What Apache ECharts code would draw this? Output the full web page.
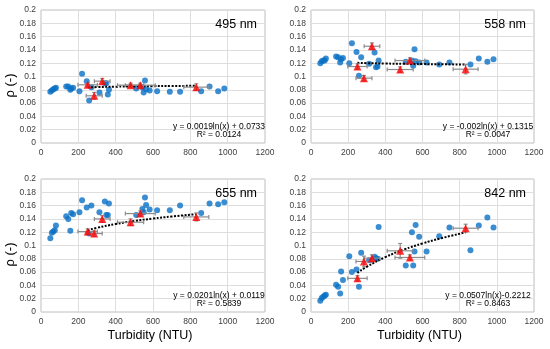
<!DOCTYPE html>
<html>
<head>
<meta charset="utf-8">
<script src="https://cdn.jsdelivr.net/npm/echarts@6/dist/echarts.min.js"></script>
<style>html,body{margin:0;padding:0;background:#fff}#c{width:550px;height:349px}</style>
</head>
<body>
<div id="c"></div>
<script>
// Shared turbidity (NTU) of field samples
var turbidity = [50, 58, 66, 74, 80, 135, 146, 157, 162, 172, 206, 220, 245, 258, 270, 313, 342, 350, 358, 364, 510, 543, 550, 557, 563, 582, 622, 690, 745, 858, 903, 949, 982];
var rho495 = [0.077, 0.079, 0.081, 0.082, 0.083, 0.085, 0.085, 0.080, 0.082, 0.083, 0.078, 0.104, 0.093, 0.064, 0.084, 0.076, 0.090, 0.090, 0.073, 0.080, 0.082, 0.084, 0.076, 0.094, 0.081, 0.079, 0.078, 0.077, 0.077, 0.078, 0.085, 0.078, 0.082];
var rho558 = [0.120, 0.123, 0.124, 0.124, 0.127, 0.130, 0.129, 0.121, 0.126, 0.128, 0.120, 0.150, 0.137, 0.101, 0.129, 0.119, 0.136, 0.114, 0.115, 0.124, 0.122, 0.124, 0.116, 0.141, 0.123, 0.121, 0.121, 0.118, 0.121, 0.118, 0.127, 0.122, 0.126];
var rho655 = [0.111, 0.119, 0.121, 0.123, 0.130, 0.144, 0.140, 0.122, 0.149, 0.147, 0.150, 0.168, 0.157, 0.118, 0.160, 0.150, 0.166, 0.146, 0.146, 0.163, 0.146, 0.155, 0.150, 0.172, 0.161, 0.154, 0.153, 0.153, 0.160, 0.149, 0.163, 0.162, 0.165];
var rho842 = [0.017, 0.021, 0.023, 0.025, 0.026, 0.041, 0.038, 0.028, 0.061, 0.048, 0.084, 0.060, 0.064, 0.038, 0.089, 0.078, 0.083, 0.081, 0.080, 0.128, 0.070, 0.120, 0.070, 0.091, 0.131, 0.113, 0.091, 0.114, 0.127, 0.093, 0.130, 0.142, 0.127];

// Lab measurements (mean with error bars)
var labTurb = [250, 285, 328, 480, 532, 832];
var labTurbErr = [52, 43, 42, 70, 80, 67];
var lab495 = [0.0875, 0.071, 0.093, 0.087, 0.087, 0.084];
var lab495Err = [0.003, 0.005, 0.004, 0.003, 0.003, 0.005];
var lab558 = [0.115, 0.0975, 0.1455, 0.1105, 0.124, 0.111];
var lab558Err = [0.004, 0.004, 0.005, 0.004, 0.004, 0.007];
var lab655 = [0.121, 0.118, 0.140, 0.135, 0.148, 0.143];
var lab655Err = [0.004, 0.004, 0.005, 0.005, 0.004, 0.006];
var lab842 = [0.0506, 0.076, 0.081, 0.092, 0.082, 0.126];
var lab842Err = [0.004, 0.008, 0.005, 0.011, 0.004, 0.006];

// Logarithmic trend lines
var trendX = [250, 300, 400, 500, 600, 700, 832];
var trend495 = [0.0838, 0.0841, 0.0847, 0.0851, 0.0855, 0.0857, 0.0861];
var trend558 = [0.1205, 0.1201, 0.1195, 0.1191, 0.1187, 0.1184, 0.1181];
var trend655 = [0.1229, 0.1266, 0.1323, 0.1368, 0.1405, 0.1436, 0.1471];
var trend842 = [0.0587, 0.0680, 0.0825, 0.0939, 0.1031, 0.1109, 0.1197];

var bandNames = ['495 nm', '558 nm', '655 nm', '842 nm'];
var equations = ['y = 0.0019ln(x) + 0.0733', 'y = -0.002ln(x) + 0.1315', 'y = 0.0201ln(x) + 0.0119', 'y = 0.0507ln(x)-0.2212'];
var r2Labels = ['R\u00B2 = 0.0124', 'R\u00B2 = 0.0047', 'R\u00B2 = 0.5839', 'R\u00B2 = 0.8463'];
var xTickLabels = ['0', '200', '400', '600', '800', '1000', '1200'];

var fieldSets = [rho495, rho558, rho655, rho842];
var labSets = [lab495, lab558, lab655, lab842];
var labErrSets = [lab495Err, lab558Err, lab655Err, lab842Err];
var trendSets = [trend495, trend558, trend655, trend842];

var FONT = 'Liberation Sans, Arial, sans-serif';
var grids = [
  {left: 41, top: 10, width: 224, height: 133},
  {left: 311, top: 10, width: 223, height: 133},
  {left: 41, top: 179, width: 224, height: 133},
  {left: 311, top: 179, width: 223, height: 133}
];

var option = {
  animation: false,
  backgroundColor: '#fff',
  grid: grids.map(function (g) {
    return Object.assign({show: true, borderColor: '#bfbfbf', borderWidth: 1, backgroundColor: '#fff'}, g);
  }),
  xAxis: grids.map(function (g, i) {
    return {
      gridIndex: i, type: 'value', min: 0, max: 1200, interval: 200,
      axisLine: {show: false}, axisTick: {show: false},
      splitLine: {lineStyle: {color: '#dedede', width: 1}},
      axisLabel: {fontSize: 8.5, color: '#404040', fontFamily: FONT, margin: 5,
        formatter: function (v) { return xTickLabels[Math.round(v / 200)]; }}
    };
  }),
  yAxis: grids.map(function (g, i) {
    return {
      gridIndex: i, type: 'value', min: 0, max: 0.2, interval: 0.02,
      axisLine: {show: false}, axisTick: {show: false},
      splitLine: {lineStyle: {color: '#dedede', width: 1}},
      axisLabel: {fontSize: 8.5, color: '#404040', fontFamily: FONT, margin: 5,
        formatter: function (v) { return String(Math.round(v * 100) / 100); }}
    };
  }),
  series: [],
  graphic: []
};

for (var i = 0; i < 4; i++) {
  var field = turbidity.map(function (x, k) { return [x, fieldSets[i][k]]; });
  var lab = labTurb.map(function (x, k) { return [x, labSets[i][k], labTurbErr[k], labErrSets[i][k]]; });
  var trend = trendX.map(function (x, k) { return [x, trendSets[i][k]]; });
  option.series.push({
    type: 'scatter', xAxisIndex: i, yAxisIndex: i, data: field,
    symbol: 'circle', symbolSize: 6, itemStyle: {color: '#0A70C6'}, z: 2
  });
  option.series.push({
    type: 'line', xAxisIndex: i, yAxisIndex: i, data: trend, smooth: true,
    showSymbol: false, lineStyle: {color: '#000', width: 2, type: [2, 1.5]}, z: 3
  });
  option.series.push({
    type: 'custom', xAxisIndex: i, yAxisIndex: i, data: lab, z: 4,
    encode: {x: 0, y: 1},
    renderItem: function (params, api) {
      var x = api.value(0), y = api.value(1), ex = api.value(2), ey = api.value(3);
      var l = api.coord([x - ex, y]), r = api.coord([x + ex, y]);
      var t = api.coord([x, y + ey]), b = api.coord([x, y - ey]);
      var st = {stroke: '#8c8c8c', lineWidth: 1.2};
      var c = 2;
      return {type: 'group', children: [
        {type: 'line', shape: {x1: l[0], y1: l[1], x2: r[0], y2: r[1]}, style: st},
        {type: 'line', shape: {x1: l[0], y1: l[1] - c, x2: l[0], y2: l[1] + c}, style: st},
        {type: 'line', shape: {x1: r[0], y1: r[1] - c, x2: r[0], y2: r[1] + c}, style: st},
        {type: 'line', shape: {x1: t[0], y1: t[1], x2: b[0], y2: b[1]}, style: st},
        {type: 'line', shape: {x1: t[0] - c, y1: t[1], x2: t[0] + c, y2: t[1]}, style: st},
        {type: 'line', shape: {x1: b[0] - c, y1: b[1], x2: b[0] + c, y2: b[1]}, style: st}
      ]};
    }
  });
  option.series.push({
    type: 'scatter', xAxisIndex: i, yAxisIndex: i, data: lab.map(function (d) { return [d[0], d[1]]; }),
    symbol: 'triangle', symbolSize: 8, itemStyle: {color: '#FF0000'}, z: 5
  });
  var g = grids[i];
  var right = g.left + g.width;
  option.graphic.push({type: 'text', z: 100, right: 550 - right + 8, top: g.top + 8,
    style: {text: bandNames[i], fontSize: 12.5, fontFamily: FONT, fill: '#000'}});
  option.graphic.push({type: 'text', z: 100, x: right - 46, y: g.top + 117,
    style: {text: equations[i], fontSize: 8.5, fontFamily: FONT, fill: '#000', textAlign: 'center', textVerticalAlign: 'middle'}});
  option.graphic.push({type: 'text', z: 100, x: right - 46, y: g.top + 125,
    style: {text: r2Labels[i], fontSize: 8.5, fontFamily: FONT, fill: '#000', textAlign: 'center', textVerticalAlign: 'middle'}});
}
// Axis titles
[0, 2].forEach(function (i) {
  var g = grids[i];
  option.graphic.push({type: 'text', z: 100, x: 10, y: g.top + g.height / 2 + 9, rotation: Math.PI / 2,
    style: {text: '\u03C1 (-)', fontSize: 13, fontFamily: FONT, fill: '#000', textAlign: 'center', textVerticalAlign: 'middle'}});
});
[2, 3].forEach(function (i) {
  var g = grids[i];
  option.graphic.push({type: 'text', z: 100, x: g.left + g.width / 2 - 3, y: 336,
    style: {text: 'Turbidity (NTU)', fontSize: 12.5, fontFamily: FONT, fill: '#000', textAlign: 'center', textVerticalAlign: 'middle'}});
});

var chart = echarts.init(document.getElementById('c'), null, {renderer: 'canvas'});
chart.setOption(option);
</script>
</body>
</html>
